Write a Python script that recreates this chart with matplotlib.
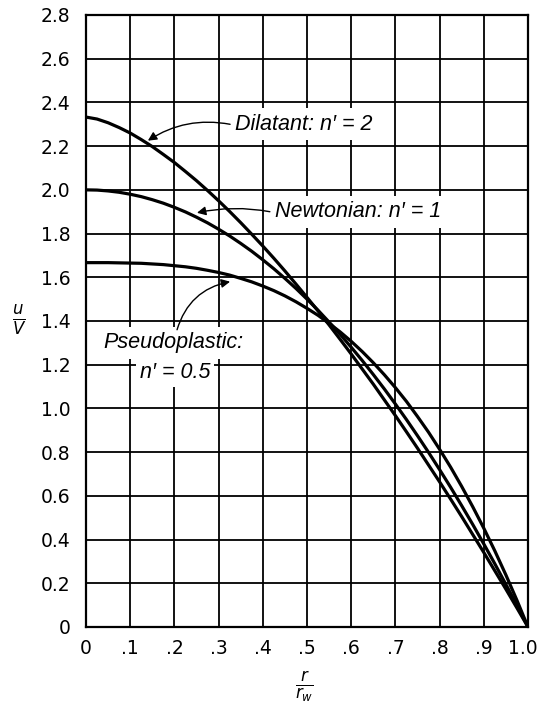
import matplotlib
matplotlib.use("Agg")
import matplotlib.pyplot as plt
from matplotlib.transforms import ScaledTranslation

# values (r/rw vs u/V)
r_vals = [0.0, 0.025, 0.05, 0.075, 0.1, 0.125, 0.15, 0.175, 0.2, 0.225, 0.25,
          0.275, 0.3, 0.325, 0.35, 0.375, 0.4, 0.425, 0.45, 0.475, 0.5,
          0.525, 0.55, 0.575, 0.6, 0.625, 0.65, 0.675, 0.7, 0.725, 0.75,
          0.775, 0.8, 0.825, 0.85, 0.875, 0.9, 0.925, 0.95, 0.975, 1.0]
dilatant = [2.333, 2.324, 2.307, 2.285, 2.260, 2.230, 2.198, 2.162, 2.125, 2.084, 2.042,
            1.997, 1.950, 1.901, 1.850, 1.797, 1.743, 1.687, 1.629, 1.569, 1.508,
            1.446, 1.382, 1.316, 1.249, 1.180, 1.111, 1.039, 0.967, 0.893, 0.818,
            0.741, 0.664, 0.585, 0.505, 0.423, 0.341, 0.257, 0.173, 0.087, 0.0]
newtonian = [2.0, 1.999, 1.995, 1.989, 1.98, 1.969, 1.955, 1.939, 1.92, 1.899, 1.875,
             1.849, 1.82, 1.789, 1.755, 1.719, 1.68, 1.639, 1.595, 1.549, 1.5,
             1.449, 1.395, 1.339, 1.28, 1.219, 1.155, 1.089, 1.02, 0.949, 0.875,
             0.799, 0.72, 0.639, 0.555, 0.469, 0.38, 0.289, 0.195, 0.099, 0.0]
pseudoplastic = [1.667, 1.667, 1.667, 1.666, 1.665, 1.664, 1.661, 1.658, 1.653, 1.648, 1.641,
                 1.632, 1.622, 1.610, 1.595, 1.579, 1.560, 1.539, 1.515, 1.488, 1.458,
                 1.426, 1.389, 1.350, 1.307, 1.260, 1.209, 1.154, 1.095, 1.032, 0.963,
                 0.891, 0.813, 0.731, 0.643, 0.550, 0.452, 0.348, 0.238, 0.122, 0.0]

x_ticks = [0.0, 0.1, 0.2, 0.3, 0.4, 0.5, 0.6, 0.7, 0.8, 0.9, 1.0]
x_labels = ["0", ".1", ".2", ".3", ".4", ".5", ".6", ".7", ".8", ".9", "1.0"]
y_ticks = [0.0, 0.2, 0.4, 0.6, 0.8, 1.0, 1.2, 1.4, 1.6, 1.8, 2.0, 2.2, 2.4, 2.6, 2.8]
y_labels = ["0", "0.2", "0.4", "0.6", "0.8", "1.0", "1.2", "1.4", "1.6", "1.8",
            "2.0", "2.2", "2.4", "2.6", "2.8"]

label_font = ["Liberation Sans", "DejaVu Sans"]

fig = plt.figure(figsize=(5.4, 7.08), dpi=100)
ax = fig.add_axes([86 / 540, 81 / 708, 442 / 540, 612 / 708])

ax.set_xlim(0, 1.0)
ax.set_ylim(0, 2.8)
ax.set_xticks(x_ticks)
ax.set_xticklabels(x_labels)
ax.set_yticks(y_ticks)
ax.set_yticklabels(y_labels)
ax.tick_params(length=0, labelsize=13.5, colors="black")
ax.tick_params(axis="x", pad=9)
ax.tick_params(axis="y", pad=11)
ax.grid(True, color="black", lw=1.3, zorder=1)
ax.set_axisbelow(True)
for s in ax.spines.values():
    s.set_linewidth(1.6)

# keep the last x label inside the figure
last = ax.get_xticklabels()[-1]
last.set_transform(last.get_transform() + ScaledTranslation(-4 / 72, 0, fig.dpi_scale_trans))

for vals in [dilatant, newtonian, pseudoplastic]:
    ax.plot(r_vals, vals, color="black", lw=2.3, zorder=3)

box = dict(facecolor="white", edgecolor="none", pad=4)
txt_kw = dict(fontsize=15.5, style="italic", family=label_font, zorder=4, va="center")

ax.text(0.337, 2.30, "Dilatant: n\u2032 = 2", ha="left", bbox=box, **txt_kw)
ax.text(0.428, 1.90, "Newtonian: n\u2032 = 1", ha="left", bbox=box, **txt_kw)
ax.text(0.197, 1.30, "Pseudoplastic:", ha="center", bbox=box, **txt_kw)
ax.text(0.201, 1.165, "n\u2032 = 0.5", ha="center",
        bbox=dict(facecolor="white", edgecolor="none", pad=3), **txt_kw)

arrow = dict(arrowstyle="-|>", color="black", lw=1.0, mutation_scale=13, shrinkA=0, shrinkB=0)
ax.annotate("", xy=(0.14, 2.225), xytext=(0.326, 2.30),
            arrowprops=dict(connectionstyle="arc3,rad=0.2", **arrow), zorder=5)
ax.annotate("", xy=(0.251, 1.895), xytext=(0.416, 1.90),
            arrowprops=dict(connectionstyle="arc3,rad=0.1", **arrow), zorder=5)
ax.annotate("", xy=(0.326, 1.58), xytext=(0.206, 1.36),
            arrowprops=dict(connectionstyle="arc3,rad=-0.3", **arrow), zorder=5)

fig.text(19 / 540, 1 - 321 / 708, r"$\frac{u}{V}$", fontsize=17, ha="center", va="center")
fig.text(304 / 540, 1 - 687 / 708, r"$\frac{r}{r_w}$", fontsize=17, ha="center", va="center")

fig.savefig("out.png", dpi=100)
